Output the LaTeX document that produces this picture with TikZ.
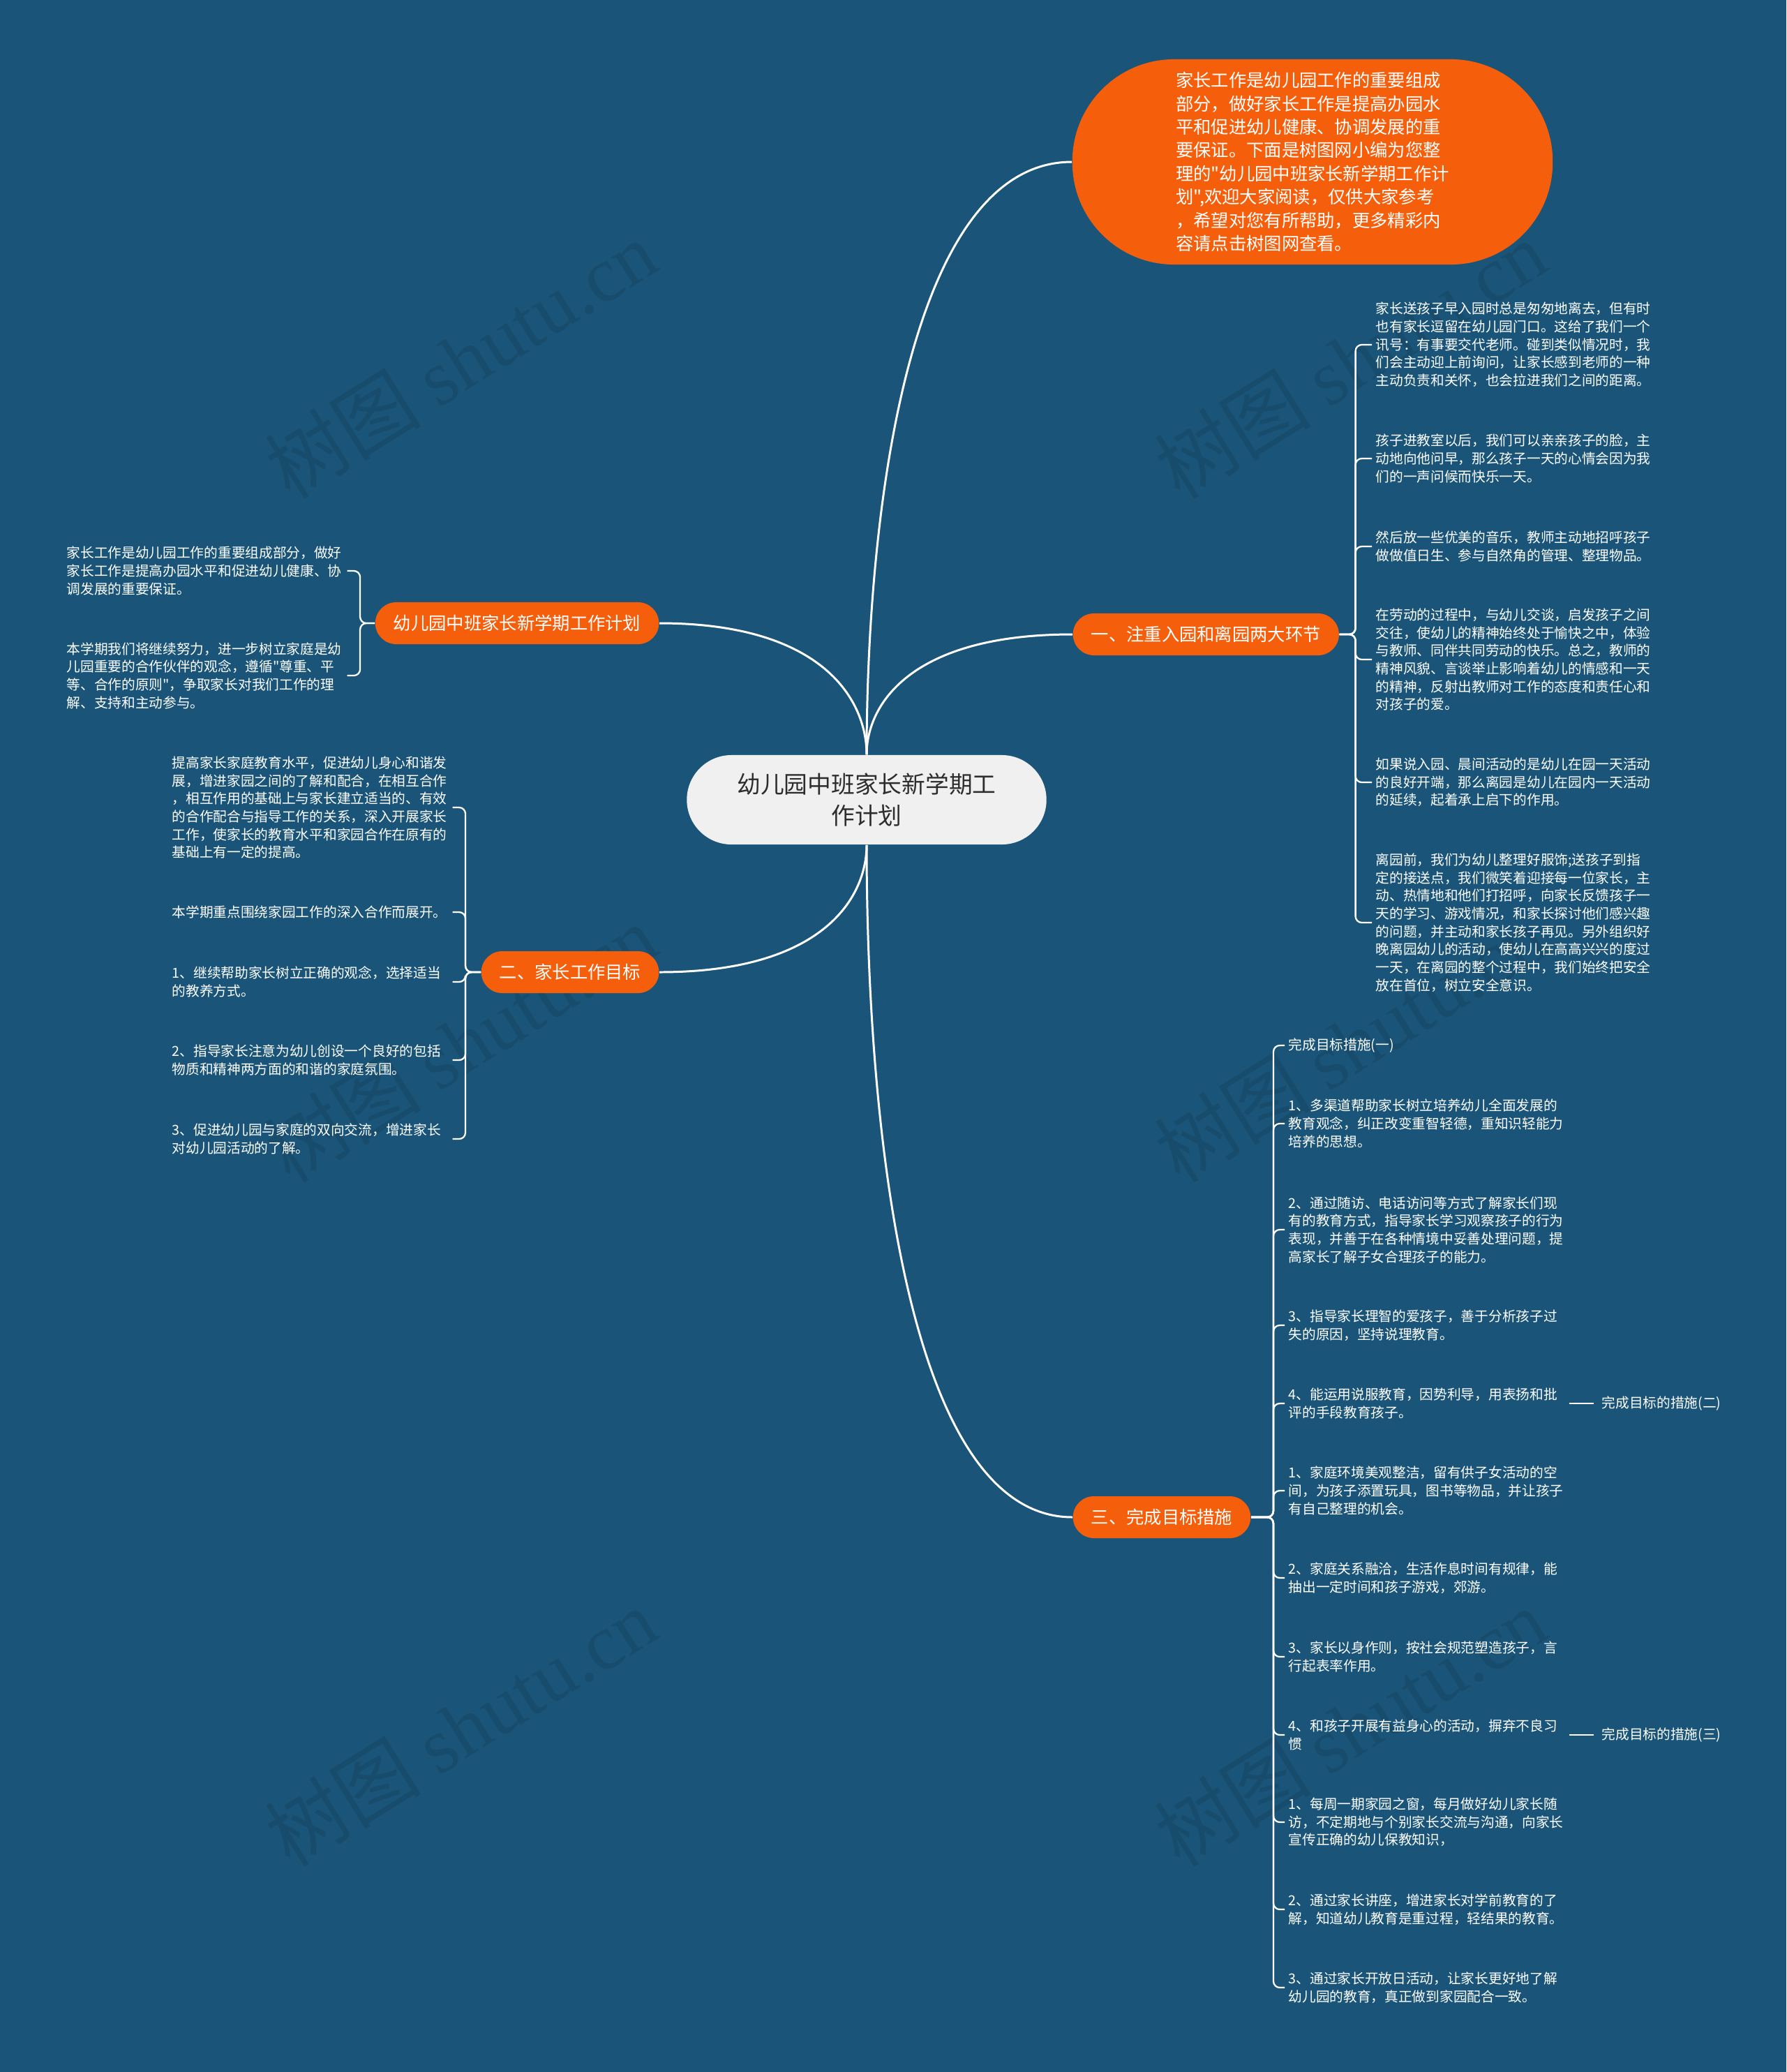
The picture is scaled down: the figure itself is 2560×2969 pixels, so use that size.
\documentclass[tikz,border=0pt]{standalone}
\usepackage{fontspec}
\setmainfont{Noto Sans CJK SC}[Ligatures=TeXOff]
\newfontfamily\wmfont{Liberation Serif}
\usetikzlibrary{calc}

\definecolor{bg}{RGB}{26,85,121}
\definecolor{orng}{RGB}{245,95,12}
\definecolor{rootgray}{RGB}{240,240,240}
\definecolor{rootink}{RGB}{45,45,45}

\tikzset{
  root/.style={fill=rootgray, text=rootink, rounded corners=0.64cm, minimum height=1.28cm, inner xsep=0.72cm, align=center, font=\fontsize{9.6pt}{12.8pt}\selectfont},
  intro/.style={fill=orng, text=white, rounded corners=1.46cm, minimum height=2.94cm, minimum width=6.88cm, align=left, font=\fontsize{7.2pt}{9.5pt}\selectfont},
  branch/.style={fill=orng, text=white, rounded corners=0.3cm, minimum height=0.6cm, inner xsep=0.26cm, font=\fontsize{7.2pt}{8pt}\selectfont},
  leaf/.style={text=white, text width=3.96cm, inner xsep=0.05cm, inner ysep=0pt, align=left, font=\fontsize{5.6pt}{7.3pt}\selectfont},
  subleaf/.style={text=white, inner xsep=0.11cm, inner ysep=0pt, font=\fontsize{5.6pt}{7.3pt}\selectfont},
  wm/.style={text=black, opacity=0.1, rotate=32, font=\fontsize{32pt}{32pt}\selectfont},
  link/.style={draw=white, line width=0.85pt},
  brace/.style={draw=white, line width=0.65pt, rounded corners=0.09cm},
}

\begin{document}
\begin{tikzpicture}[x=0.01cm,y=-0.01cm]
\useasboundingbox (0,0) rectangle (2560,2969);
\fill[bg] (0,0) rectangle (2560,2969);

\foreach \x in {660,1935}
  \foreach \y in {515,1495,2475}
    \node[wm] at (\x,\y) {树图 {\wmfont shutu.cn}};

\node[root] (root) at (1242,1146) {幼儿园中班家长新学期工\\作计划};
\node[intro] (intro) at (1881,232) {家长工作是幼儿园工作的重要组成\\部分，做好家长工作是提高办园水\\平和促进幼儿健康、协调发展的重\\要保证。下面是树图网小编为您整\\理的"幼儿园中班家长新学期工作计\\划",欢迎大家阅读，仅供大家参考\\，希望对您有所帮助，更多精彩内\\容请点击树图网查看。};
\node[branch,anchor=east] (plan) at (945,893) {幼儿园中班家长新学期工作计划};
\node[branch,anchor=west] (entry) at (1537,909) {一、注重入园和离园两大环节};
\node[branch,anchor=east] (goal) at (945,1393) {二、家长工作目标};
\node[branch,anchor=west] (meas) at (1537,2174) {三、完成目标措施};

\draw[link] (root.north) .. controls ($(root.north)!0.4!(root.north |- intro.west)$) and ($(root.north |- intro.west)!0.2!(intro.west)$) .. (intro.west);
\draw[link] (root.north) .. controls ($(root.north)!0.4!(root.north |- entry.west)$) and ($(root.north |- entry.west)!0.2!(entry.west)$) .. (entry.west);
\draw[link] (root.north) .. controls ($(root.north)!0.4!(root.north |- plan.east)$) and ($(root.north |- plan.east)!0.2!(plan.east)$) .. (plan.east);
\draw[link] (root.south) .. controls ($(root.south)!0.4!(root.south |- goal.east)$) and ($(root.south |- goal.east)!0.2!(goal.east)$) .. (goal.east);
\draw[link] (root.south) .. controls ($(root.south)!0.4!(root.south |- meas.west)$) and ($(root.south |- meas.west)!0.18!(meas.west)$) .. (meas.west);

\node[leaf,anchor=west] (plan1) at (90,818) {家长工作是幼儿园工作的重要组成部分，做好\\家长工作是提高办园水平和促进幼儿健康、协\\调发展的重要保证。};
\node[leaf,anchor=west] (plan2) at (90,968) {本学期我们将继续努力，进一步树立家庭是幼\\儿园重要的合作伙伴的观念，遵循"尊重、平\\等、合作的原则"，争取家长对我们工作的理\\解、支持和主动参与。};

\node[leaf,anchor=west] (entry1) at (1966,494) {家长送孩子早入园时总是匆匆地离去，但有时\\也有家长逗留在幼儿园门口。这给了我们一个\\讯号：有事要交代老师。碰到类似情况时，我\\们会主动迎上前询问，让家长感到老师的一种\\主动负责和关怀，也会拉进我们之间的距离。};
\node[leaf,anchor=west] (entry2) at (1966,657) {孩子进教室以后，我们可以亲亲孩子的脸，主\\动地向他问早，那么孩子一天的心情会因为我\\们的一声问候而快乐一天。};
\node[leaf,anchor=west] (entry3) at (1966,783) {然后放一些优美的音乐，教师主动地招呼孩子\\做做值日生、参与自然角的管理、整理物品。};
\node[leaf,anchor=west] (entry4) at (1966,945) {在劳动的过程中，与幼儿交谈，启发孩子之间\\交往，使幼儿的精神始终处于愉快之中，体验\\与教师、同伴共同劳动的快乐。总之，教师的\\精神风貌、言谈举止影响着幼儿的情感和一天\\的精神，反射出教师对工作的态度和责任心和\\对孩子的爱。};
\node[leaf,anchor=west] (entry5) at (1966,1121) {如果说入园、晨间活动的是幼儿在园一天活动\\的良好开端，那么离园是幼儿在园内一天活动\\的延续，起着承上启下的作用。};
\node[leaf,anchor=west] (entry6) at (1966,1322) {离园前，我们为幼儿整理好服饰;送孩子到指\\定的接送点，我们微笑着迎接每一位家长，主\\动、热情地和他们打招呼，向家长反馈孩子一\\天的学习、游戏情况，和家长探讨他们感兴趣\\的问题，并主动和家长孩子再见。另外组织好\\晚离园幼儿的活动，使幼儿在高高兴兴的度过\\一天，在离园的整个过程中，我们始终把安全\\放在首位，树立安全意识。};

\node[leaf,anchor=west] (goal1) at (241,1157) {提高家长家庭教育水平，促进幼儿身心和谐发\\展，增进家园之间的了解和配合，在相互合作\\，相互作用的基础上与家长建立适当的、有效\\的合作配合与指导工作的关系，深入开展家长\\工作，使家长的教育水平和家园合作在原有的\\基础上有一定的提高。};
\node[leaf,anchor=west] (goal2) at (241,1307) {本学期重点围绕家园工作的深入合作而展开。};
\node[leaf,anchor=west] (goal3) at (241,1407) {1、继续帮助家长树立正确的观念，选择适当\\的教养方式。};
\node[leaf,anchor=west] (goal4) at (241,1519) {2、指导家长注意为幼儿创设一个良好的包括\\物质和精神两方面的和谐的家庭氛围。};
\node[leaf,anchor=west] (goal5) at (241,1632) {3、促进幼儿园与家庭的双向交流，增进家长\\对幼儿园活动的了解。};

\node[leaf,anchor=west] (meas1) at (1841,1498) {完成目标措施(一)};
\node[leaf,anchor=west] (meas2) at (1841,1610) {1、多渠道帮助家长树立培养幼儿全面发展的\\教育观念，纠正改变重智轻德，重知识轻能力\\培养的思想。};
\node[leaf,anchor=west] (meas3) at (1841,1762) {2、通过随访、电话访问等方式了解家长们现\\有的教育方式，指导家长学习观察孩子的行为\\表现，并善于在各种情境中妥善处理问题，提\\高家长了解子女合理孩子的能力。};
\node[leaf,anchor=west] (meas4) at (1841,1899) {3、指导家长理智的爱孩子，善于分析孩子过\\失的原因，坚持说理教育。};
\node[leaf,anchor=west] (meas5) at (1841,2011) {4、能运用说服教育，因势利导，用表扬和批\\评的手段教育孩子。};
\node[leaf,anchor=west] (meas6) at (1841,2136) {1、家庭环境美观整洁，留有供子女活动的空\\间，为孩子添置玩具，图书等物品，并让孩子\\有自己整理的机会。};
\node[leaf,anchor=west] (meas7) at (1841,2261) {2、家庭关系融洽，生活作息时间有规律，能\\抽出一定时间和孩子游戏，郊游。};
\node[leaf,anchor=west] (meas8) at (1841,2374) {3、家长以身作则，按社会规范塑造孩子，言\\行起表率作用。};
\node[leaf,anchor=west] (meas9) at (1841,2486) {4、和孩子开展有益身心的活动，摒弃不良习\\惯};
\node[leaf,anchor=west] (meas10) at (1841,2611) {1、每周一期家园之窗，每月做好幼儿家长随\\访，不定期地与个别家长交流与沟通，向家长\\宣传正确的幼儿保教知识，};
\node[leaf,anchor=west] (meas11) at (1841,2736) {2、通过家长讲座，增进家长对学前教育的了\\解，知道幼儿教育是重过程，轻结果的教育。};
\node[leaf,anchor=west] (meas12) at (1841,2848) {3、通过家长开放日活动，让家长更好地了解\\幼儿园的教育，真正做到家园配合一致。};

\node[subleaf,anchor=west] (sub2) at (2284,2011) {完成目标的措施(二)};
\node[subleaf,anchor=west] (sub3) at (2284,2486) {完成目标的措施(三)};

\foreach \n in {plan1,plan2}
  \draw[brace] (plan.west) -- ++(-21,0) |- (\n.east);
\foreach \n in {entry1,entry2,entry3,entry4,entry5,entry6}
  \draw[brace] (entry.east) -- ++(23,0) |- (\n.west);
\foreach \n in {goal1,goal2,goal3,goal4,goal5}
  \draw[brace] (goal.west) -- ++(-22,0) |- (\n.east);
\foreach \n in {meas1,meas2,meas3,meas4,meas5,meas6,meas7,meas8,meas9,meas10,meas11,meas12}
  \draw[brace] (meas.east) -- ++(32,0) |- (\n.west);
\draw[brace] (meas5.east) -- (sub2.west);
\draw[brace] (meas9.east) -- (sub3.west);
\end{tikzpicture}
\end{document}
